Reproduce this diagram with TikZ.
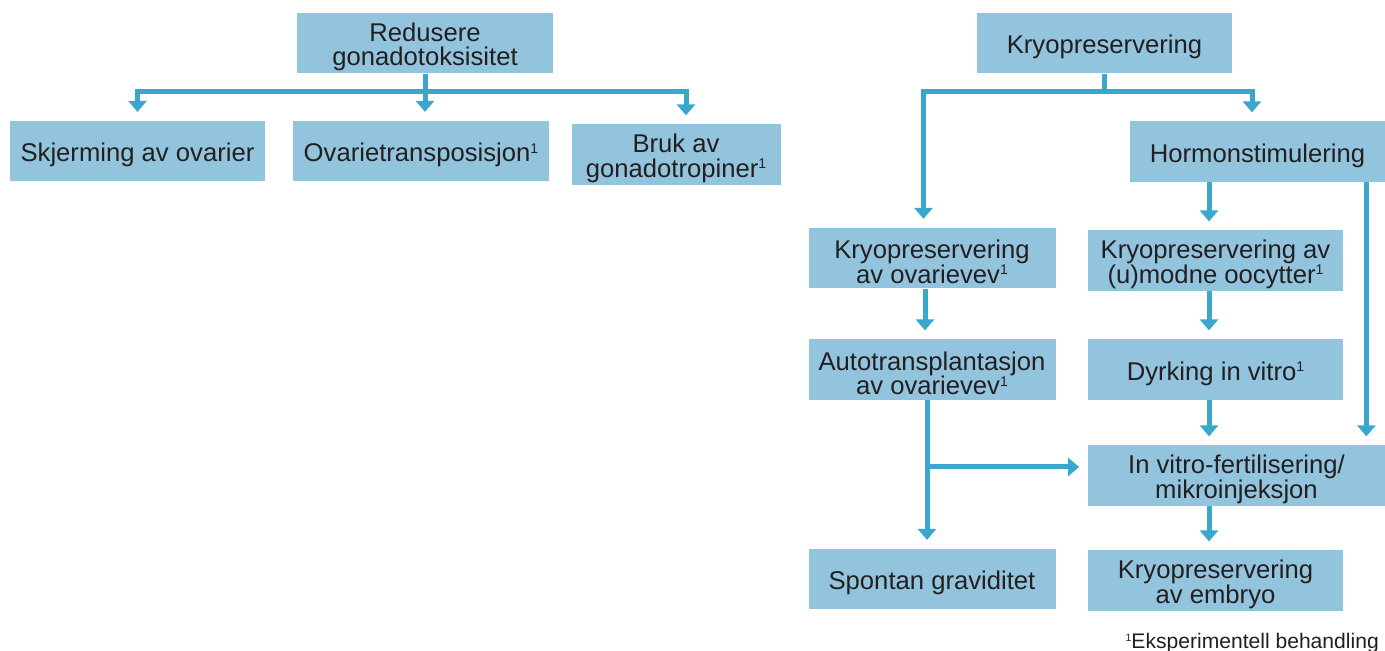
\documentclass[tikz,border=0pt]{standalone}
\usepackage{fontspec}
\setmainfont{Liberation Sans}
\usepackage{tikz}
\usetikzlibrary{arrows.meta, positioning}
\definecolor{boxblue}{HTML}{93C4DE}
\definecolor{linkblue}{HTML}{3AA8CC}
\definecolor{textgray}{HTML}{231F20}
\newcommand{\capstrut}{\rule{0pt}{15pt}}
\newcommand{\fnmark}{\raisebox{4.7pt}{\fontsize{8}{8}\selectfont 1}}

\begin{document}
\begin{tikzpicture}[font=\fontsize{14.6}{13.9}\selectfont,
  box/.style={fill=boxblue, text=textgray, align=center, inner sep=0pt, minimum height=1.21cm},
  link/.style={draw=linkblue, line width=0.1cm, -{Triangle[width=0.36cm, length=0.22cm]}, shorten >=0.17cm}]
  \useasboundingbox (0,0) rectangle (27.7,13.02);

  \node[box, minimum width=5.12cm] (red) at (8.5,12.16) {\capstrut Redusere\\gonadotoksisitet};
  \node[box, minimum width=5.1cm] (skj) at (2.75,10.0) {\capstrut Skjerming av ovarier};
  \node[box, minimum width=5.12cm] (ovt) at (8.42,10.0) {\capstrut Ovarietransposisjon\fnmark};
  \node[box, minimum width=4.18cm] (bruk) at (13.52,9.93) {\capstrut Bruk av\\gonadotropiner\fnmark};

  \draw[link] (red.south) -- ++(0,-0.35) coordinate (rbus) -| (skj.north);
  \draw[link] (red.south) -- (red.south |- ovt.north);
  \draw[link] (rbus) -| ([xshift=0.2cm]bruk.north);

  \node[box, minimum width=5.1cm] (kry) at (22.09,12.16) {\capstrut Kryopreservering};
  \node[box, minimum width=5.1cm] (hor) at (25.15,9.99) {\capstrut Hormonstimulering};
  \node[box, minimum width=4.94cm] (kov) at (18.64,7.86) {\capstrut Kryopreservering\\av ovarievev\fnmark};
  \node[box, minimum width=5.1cm] (koo) at (24.31,7.81) {\capstrut Kryopreservering av\\(u)modne oocytter\fnmark};
  \node[box, minimum width=4.94cm] (aut) at (18.64,5.63) {\capstrut Autotransplantasjon\\av ovarievev\fnmark};
  \node[box, minimum width=5.1cm] (dyr) at (24.31,5.63) {\capstrut Dyrking in vitro\fnmark};
  \node[box, minimum width=5.94cm] (ivf) at (24.73,3.51) {\capstrut In vitro-fertilisering/\\mikroinjeksjon};
  \node[box, minimum width=4.94cm] (spo) at (18.64,1.44) {\capstrut Spontan graviditet};
  \node[box, minimum width=5.1cm] (emb) at (24.31,1.41) {\capstrut Kryopreservering\\av embryo};

  \draw[link] (kry.south) -- ++(0,-0.36) coordinate (kbus) -| ([xshift=-0.17cm]kov.north);
  \draw[link] (kbus) -| ([xshift=-0.11cm]hor.north);
  \draw[link] ([xshift=-0.13cm]koo.north |- hor.south) -- ([xshift=-0.13cm]koo.north);
  \draw[link] ([xshift=-0.38cm]hor.south east) -- ([xshift=-0.38cm]ivf.north east);
  \draw[link] ([xshift=-0.14cm]kov.south) -- ([xshift=-0.14cm]aut.north);
  \draw[link] ([xshift=-0.13cm]koo.south) -- ([xshift=-0.13cm]dyr.north);
  \draw[link] ([xshift=-0.13cm]dyr.south) -- ([xshift=-0.13cm]dyr.south |- ivf.north);
  \coordinate (autdown) at ([xshift=-0.1cm]aut.south);
  \coordinate (ivfin) at ([yshift=0.17cm]ivf.west);
  \draw[link] (autdown) -- (autdown |- spo.north);
  \draw[link] (autdown |- ivfin) -- (ivfin);
  \draw[link] ([xshift=-0.13cm]emb.north |- ivf.south) -- ([xshift=-0.13cm]emb.north);

  \node[anchor=base east, text=textgray, font=\fontsize{12}{14}\selectfont] (note) at (27.7,0.04) {\raisebox{4.2pt}{\fontsize{6}{6}\selectfont 1}Eksperimentell behandling};
\end{tikzpicture}
\end{document}
